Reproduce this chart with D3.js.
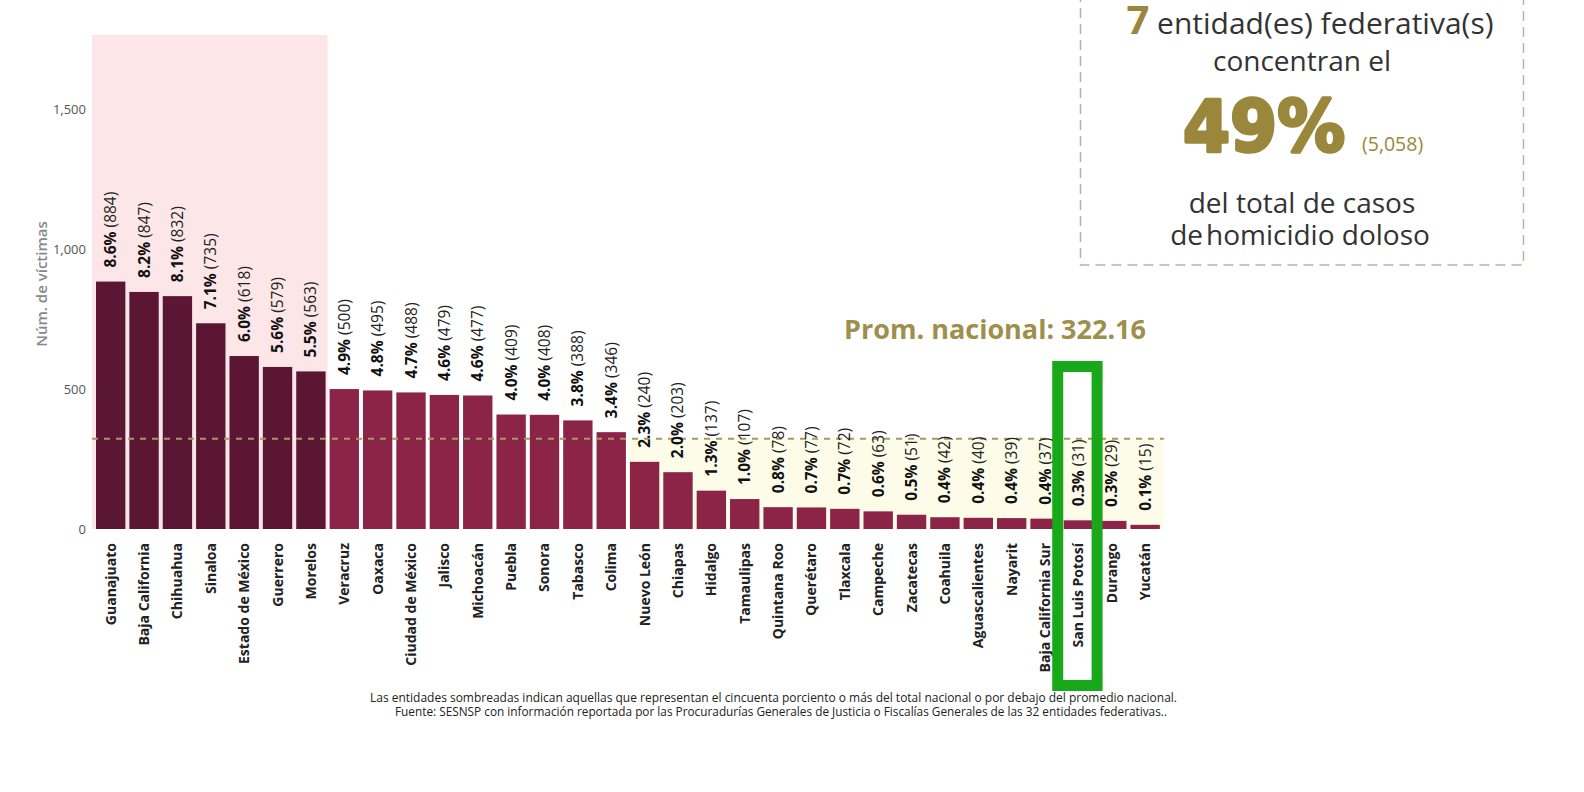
<!DOCTYPE html>
<html>
<head>
<meta charset="utf-8">
<script src="https://cdn.jsdelivr.net/npm/d3@7"></script>
<style>
  body { margin: 0; background: #fff; }
  svg { display: block; font-family: "Open Sans", sans-serif; }
</style>
</head>
<body>
<div id="chart"></div>
<script>
const states = ["Guanajuato", "Baja California", "Chihuahua", "Sinaloa", "Estado de México", "Guerrero", "Morelos",
  "Veracruz", "Oaxaca", "Ciudad de México", "Jalisco", "Michoacán", "Puebla", "Sonora", "Tabasco", "Colima",
  "Nuevo León", "Chiapas", "Hidalgo", "Tamaulipas", "Quintana Roo", "Querétaro", "Tlaxcala", "Campeche",
  "Zacatecas", "Coahuila", "Aguascalientes", "Nayarit", "Baja California Sur", "San Luis Potosí", "Durango", "Yucatán"];
const victims = [884, 847, 832, 735, 618, 579, 563, 500, 495, 488, 479, 477, 409, 408, 388, 346,
  240, 203, 137, 107, 78, 77, 72, 63, 51, 42, 40, 39, 37, 31, 29, 15];
const shares = ["8.6%", "8.2%", "8.1%", "7.1%", "6.0%", "5.6%", "5.5%", "4.9%", "4.8%", "4.7%", "4.6%", "4.6%",
  "4.0%", "4.0%", "3.8%", "3.4%", "2.3%", "2.0%", "1.3%", "1.0%", "0.8%", "0.7%", "0.7%", "0.6%",
  "0.5%", "0.4%", "0.4%", "0.4%", "0.4%", "0.3%", "0.3%", "0.1%"];
const yTicks = [0, 500, 1000, 1500];
const average = 322.16;
const topCount = 7;
const highlighted = "San Luis Potosí";

const W = 1584, H = 792;
const gold = "#9a873c";

const svg = d3.select("#chart").append("svg")
  .attr("width", W).attr("height", H);

// Scales
const x = d3.scaleBand()
  .domain(states)
  .range([94, 94 + 32 * 33.37])
  .paddingInner(0.12)
  .paddingOuter(0.06);

const y = d3.scaleLinear()
  .domain([0, 1765])
  .range([529, 35]);

const half = x.step() * x.paddingInner() / 2;

// shaded areas
svg.append("rect")
  .attr("x", x(states[0]) - half - 2)
  .attr("y", y(1765))
  .attr("width", x(states[topCount - 1]) + x.bandwidth() + half - x(states[0]) + half + 2)
  .attr("height", y(0) - y(1765))
  .attr("fill", "#fde6e8");

const firstBelow = states[victims.findIndex(v => v < average)];
svg.append("rect")
  .attr("x", x(firstBelow) - half)
  .attr("y", y(average))
  .attr("width", x.range()[1] + 2 - (x(firstBelow) - half))
  .attr("height", y(0) - y(average))
  .attr("fill", "#fdfce9");

// bars
svg.append("g").selectAll("rect")
  .data(states)
  .join("rect")
  .attr("x", d => x(d))
  .attr("y", (d, i) => y(victims[i]))
  .attr("width", x.bandwidth())
  .attr("height", (d, i) => y(0) - y(victims[i]))
  .attr("fill", (d, i) => i < topCount ? "#5a1632" : "#8b2447");

// average line
svg.append("line")
  .attr("x1", x.range()[0] - 2).attr("x2", x.range()[1] + 2)
  .attr("y1", y(average)).attr("y2", y(average))
  .attr("stroke", "#a39b60")
  .attr("stroke-width", 2)
  .attr("stroke-dasharray", "6,6");

svg.append("text")
  .attr("x", 1146).attr("y", 339)
  .attr("text-anchor", "end")
  .attr("font-size", 27).attr("font-weight", 700)
  .attr("fill", "#9e8f4c")
  .text("Prom. nacional: " + average.toFixed(2));

// value labels
const labels = svg.append("g").selectAll("text")
  .data(states)
  .join("text")
  .attr("transform", (d, i) => `translate(${x(d) + x.bandwidth() / 2 + 5.5},${y(victims[i]) - 14}) rotate(-90)`)
  .attr("font-size", 15.5)
  .attr("fill", "#222");
labels.append("tspan").attr("font-weight", 700).attr("fill", "#111").text((d, i) => shares[i]);
labels.append("tspan").text((d, i) => " (" + victims[i] + ")");

// y axis
const yAxis = svg.append("g")
  .attr("transform", "translate(89,0)")
  .call(d3.axisLeft(y).tickValues(yTicks).tickSize(0).tickPadding(3).tickFormat(d3.format(",")));
yAxis.select(".domain").remove();
yAxis.selectAll("text")
  .attr("font-family", "Open Sans, sans-serif")
  .attr("font-size", 13)
  .attr("fill", "#555");

svg.append("text")
  .attr("transform", "translate(47,284) rotate(-90)")
  .attr("text-anchor", "middle")
  .attr("font-size", 15).attr("font-weight", 600)
  .attr("fill", "#888")
  .text("Núm. de víctimas");

// x axis
const xAxis = svg.append("g")
  .attr("transform", `translate(0,${y(0)})`)
  .call(d3.axisBottom(x).tickSize(0).tickPadding(0));
xAxis.select(".domain").remove();
xAxis.selectAll("text")
  .attr("font-family", "Open Sans, sans-serif")
  .attr("font-size", 14)
  .attr("font-weight", 700)
  .attr("fill", "#222")
  .attr("text-anchor", "end")
  .attr("dy", null)
  .attr("y", 0)
  .attr("transform", "translate(5,14) rotate(-90)");

// highlight box
svg.append("rect")
  .attr("x", x(highlighted) - 6)
  .attr("y", 366.5)
  .attr("width", x.bandwidth() + 10)
  .attr("height", 319)
  .attr("fill", "none")
  .attr("stroke", "#19a81a")
  .attr("stroke-width", 11);

// summary box
const box = svg.append("g");
box.append("rect")
  .attr("x", 1080.5).attr("y", -10)
  .attr("width", 443).attr("height", 275)
  .attr("fill", "none")
  .attr("stroke", "#b9b599")
  .attr("stroke-width", 1.5)
  .attr("stroke-dasharray", "10,6");

const cx = 1302;
const l1 = box.append("text").attr("x", cx + 8).attr("y", 34).attr("text-anchor", "middle").attr("fill", "#333");
l1.append("tspan").attr("font-size", 40).attr("font-weight", 700).attr("fill", gold).text(topCount);
l1.append("tspan").attr("font-size", 30).text(" entidad(es) federativa(s)");

box.append("text").attr("x", cx).attr("y", 71).attr("text-anchor", "middle")
  .attr("font-size", 28).attr("fill", "#333").text("concentran el");

box.append("text").attr("x", 1183).attr("y", 151)
  .attr("font-family", "DejaVu Sans, sans-serif")
  .attr("font-size", 72).attr("font-weight", 900).attr("fill", gold)
  .attr("stroke", gold).attr("stroke-width", 3.5).attr("stroke-linejoin", "round")
  .attr("textLength", 162).attr("lengthAdjust", "spacingAndGlyphs")
  .text("49%");
box.append("text").attr("x", 1362).attr("y", 151)
  .attr("font-size", 19.5).attr("fill", gold).text("(5,058)");

const tail = box.append("text").attr("text-anchor", "middle")
  .attr("font-size", 28).attr("fill", "#333");
tail.append("tspan").attr("x", cx).attr("y", 213).text("del total de casos");
tail.append("tspan").attr("x", cx - 2).attr("y", 245).text("de");
tail.append("tspan").attr("dx", 3).text("homicidio doloso");

// footnote
const notes = [
  "Las entidades sombreadas indican aquellas que representan el cincuenta porciento o más del total nacional o por debajo del promedio nacional.",
  "Fuente: SESNSP con información reportada por las Procuradurías Generales de Justicia o Fiscalías Generales de las 32 entidades federativas.."
];
svg.append("g").selectAll("text")
  .data(notes)
  .join("text")
  .attr("x", (d, i) => i === 0 ? 1177 : 1167)
  .attr("y", (d, i) => 702 + i * 14)
  .attr("text-anchor", "end")
  .attr("font-size", 12)
  .attr("fill", "#222")
  .attr("textLength", (d, i) => i === 0 ? 807 : 772)
  .attr("lengthAdjust", "spacingAndGlyphs")
  .text(d => d);
</script>
</body>
</html>
